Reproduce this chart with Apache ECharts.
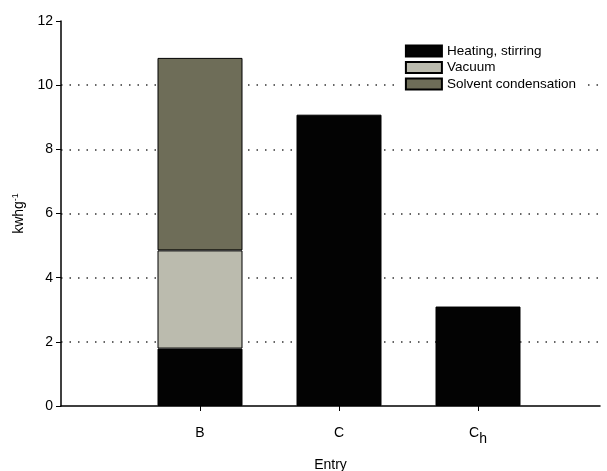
<!DOCTYPE html>
<html>
<head>
<meta charset="utf-8">
<script src="https://cdn.jsdelivr.net/npm/echarts@6/dist/echarts.min.js"></script>
<style>
  html, body { margin: 0; padding: 0; background: #fff; }
  #main { width: 607px; height: 471px; }
</style>
</head>
<body>
<div id="main"></div>
<script>
// first slot is an empty spacer so B sits one band away from the y axis
var categories = ['', 'B', 'C', 'Ch', ''];
var heating = ['-', 1.79, 9.08, 3.1, '-'];
var vacuum = ['-', 3.06, '-', '-', '-'];
var solvent = ['-', 6.0, '-', '-', '-'];
var catPos = [1, 2, 3];
var yTicks = [0, 2, 4, 6, 8, 10, 12];

var font = 'Liberation Sans, Arial, sans-serif';
var band = 139;

var myChart = echarts.init(document.getElementById('main'));
option = {
    animation: false,
    backgroundColor: '#fff',
    textStyle: { fontFamily: font },
    grid: [
        // frame: axes, ticks, dotted grid
        { left: 61, right: 7, top: 21, bottom: 65, outerBoundsMode: 'none', containLabel: false },
        // bars: four full bands wide, running past the right edge
        { left: 61, width: band * 4, top: 21, bottom: 65, outerBoundsMode: 'none', containLabel: false }
    ],
    legend: {
        right: 26,
        top: 39,
        orient: 'vertical',
        itemWidth: 36,
        itemHeight: 11,
        itemGap: 2.5,
        icon: 'rect',
        padding: 5,
        backgroundColor: '#fff',
        textStyle: { fontFamily: font, fontSize: 13.5, color: '#000' },
        data: ['Heating, stirring', 'Vacuum', 'Solvent condensation']
    },
    xAxis: [
        {
            gridIndex: 0,
            type: 'value',
            min: 0,
            max: 539 / band,
            name: 'Entry',
            nameLocation: 'middle',
            nameGap: 52,
            nameTextStyle: { fontFamily: font, fontSize: 14, color: '#000' },
            axisLine: { show: true, lineStyle: { color: '#000', width: 1.5 } },
            axisTick: { show: true, customValues: catPos, length: 5, lineStyle: { color: '#000' } },
            axisLabel: {
                customValues: catPos,
                margin: 20,
                color: '#000',
                fontSize: 14,
                fontFamily: font,
                formatter: function (v) {
                    var name = categories[Math.round(v)];
                    if (name === 'Ch') return '{c|C}{s|h}';
                    return '{b|' + name + '}';
                },
                rich: {
                    b: { fontSize: 14, fontFamily: font, color: '#000' },
                    c: { fontSize: 14, fontFamily: font, color: '#000', padding: [0, 0, 6, 0] },
                    s: { fontSize: 14, fontFamily: font, color: '#000', padding: [6, 0, 0, 0] }
                }
            },
            splitLine: { show: false }
        },
        {
            gridIndex: 1,
            type: 'category',
            data: categories,
            boundaryGap: false,
            show: false
        }
    ],
    yAxis: [
        {
            gridIndex: 0,
            type: 'value',
            min: 0,
            max: 12,
            interval: 2,
            name: '{n|kwhg}{p|-1}',
            nameLocation: 'middle',
            nameGap: 33,
            nameTextStyle: {
                rich: {
                    n: { fontSize: 14, fontFamily: font, color: '#000' },
                    p: { fontSize: 9, fontFamily: font, color: '#000', padding: [0, 0, 8, 0] }
                }
            },
            axisLine: { show: true, lineStyle: { color: '#000', width: 1.5 } },
            axisTick: { show: true, inside: false, length: 5, lineStyle: { color: '#000' } },
            axisLabel: { color: '#000', fontSize: 14, fontFamily: font, margin: 8,
                formatter: function (v) { return yTicks.indexOf(v) >= 0 ? String(v) : ''; } },
            splitLine: {
                show: true,
                showMinLine: false,
                showMaxLine: false,
                lineStyle: { color: '#333', type: [1.5, 7], width: 1.5 }
            }
        },
        {
            gridIndex: 1,
            type: 'value',
            min: 0,
            max: 12,
            show: false,
            splitLine: { show: false }
        }
    ],
    series: [
        {
            name: 'Heating, stirring',
            type: 'bar',
            xAxisIndex: 1,
            yAxisIndex: 1,
            stack: 'energy',
            barWidth: 85,
            data: heating,
            itemStyle: { color: '#030303', borderColor: '#000', borderWidth: 1 }
        },
        {
            name: 'Vacuum',
            type: 'bar',
            xAxisIndex: 1,
            yAxisIndex: 1,
            stack: 'energy',
            barWidth: 85,
            data: vacuum,
            itemStyle: { color: '#bbbbae', borderColor: '#000', borderWidth: 1 }
        },
        {
            name: 'Solvent condensation',
            type: 'bar',
            xAxisIndex: 1,
            yAxisIndex: 1,
            stack: 'energy',
            barWidth: 85,
            data: solvent,
            itemStyle: { color: '#6e6d58', borderColor: '#000', borderWidth: 1 }
        }
    ]
};
myChart.setOption(option);
</script>
</body>
</html>
